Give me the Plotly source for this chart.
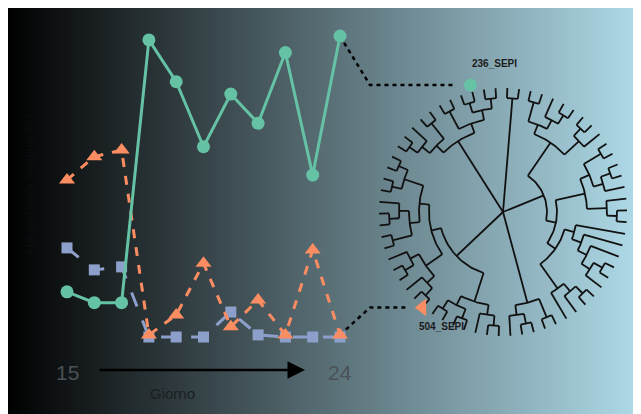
import numpy as np
import plotly.graph_objects as go

# ---------------- data ----------------
giorni = [15, 15.9, 16.8, 17.7, 18.6, 19.5, 20.4, 21.3, 22.2, 23.1, 24]
ceppo_236 = [15.0, 11.4, 11.4, 98.7, 84.8, 63.2, 80.7, 71.0, 94.5, 53.8, 100.0]
ceppo_504 = [52.2, 59.9, 62.1, 0.7, 7.3, 24.5, 3.4, 12.3, 0.7, 28.9, 0.7]
altri_ceppi = [29.6, 22.3, 23.3, 0.0, 0.0, 0.0, 8.3, 0.7, 0.0, 0.0, 0.0]
tick_giorni = [15, 24]
tick_testi = ["15", "24"]
etichetta_x = "Giorno"
etichetta_y = "Abbondanza relativa (%)"

# phylogenetic tree topology (leaves in clockwise order)
clade_B = ["", ""]
clade_C1 = [[["", ""], ["", ["", ""]]], [["", ""], ""]]
clade_C2 = [[["", ""], [["", ""], ""]], ["", ["", ""]]]
clade_C3 = ["", ["", ["", [["", ""], ""]]]]
clade_C4 = [[["", ""], ""], ""]
clade_C = [clade_C1, [clade_C2, [clade_C3, clade_C4]]]
clade_D = [["", ""], [["", ""], ""]]
clade_E1 = [[["", ""], ""], [["", ""], ["", ""]]]
clade_E2 = [[["504_SEPI", ""], ""], [["", ""], ""]]
clade_E3 = [["", ""], [["", ""], ""]]
clade_E4 = [["", ""], ["", ""]]
clade_E = [clade_E1, [clade_E2, [clade_E3, clade_E4]]]
clade_A1 = [[["", ""], ""], ["", ""]]
clade_A2 = [["", ""], [["", "236_SEPI"], ["", ""]]]
clade_A = [clade_A1, clade_A2]
albero = [clade_B, clade_C, clade_D, clade_E, clade_A]

# ---------------- geometry (screen pixel frame -> data frame) ----------------
OFF = 8  # page margin of the browser
SW, SH = 641, 414
W, H = SW - OFF, SH - OFF
PX15, PX24 = 67, 340
kx = (PX24 - PX15) / (24 - 15)
x_lo = 15 - (PX15 - OFF) / kx
x_hi = x_lo + W / kx
PY0, PY100 = 337, 36
ky = (PY0 - PY100) / 100.0
y_lo = -(SH - PY0) / ky
y_hi = y_lo + H / ky


def X(px):
    return x_lo + (px - OFF) / kx


def Y(py):
    return y_hi - (py - OFF) / ky


# ---------------- tree layout ----------------
TREE_CX, TREE_CY = 503, 212
R_LEAF = 124.0
STEP = 10.0
A0 = 88.0

leaves = []


def walk(n):
    if isinstance(n, str):
        leaves.append(n)
        return {"leaf": True, "i": len(leaves) - 1, "h": 0, "name": n}
    kids = [walk(c) for c in n]
    return {"leaf": False, "kids": kids, "h": 1 + max(k["h"] for k in kids)}


root = walk(albero)
N = len(leaves)
dang = 360.0 / N


def assign(node, is_root=False):
    if node["leaf"]:
        node["a"] = A0 - node["i"] * dang
        node["r"] = R_LEAF
    else:
        for k in node["kids"]:
            assign(k)
        node["a"] = 0.5 * (node["kids"][0]["a"] + node["kids"][-1]["a"])
        node["r"] = 0.0 if is_root else R_LEAF - STEP * node["h"]


assign(root, True)


def to_data(r, a_deg):
    t = np.radians(a_deg)
    return X(TREE_CX + r * np.cos(t)), Y(TREE_CY - r * np.sin(t))


tx, ty = [], []
labelled = {}


def draw(node, is_root=False):
    if node["leaf"]:
        if node["name"]:
            labelled[node["name"]] = node["a"]
        return
    if not is_root:
        angs = np.linspace(node["kids"][0]["a"], node["kids"][-1]["a"], 30)
        for a in angs:
            x, y = to_data(node["r"], a)
            tx.append(x)
            ty.append(y)
        tx.append(None)
        ty.append(None)
    for k in node["kids"]:
        for r in (node["r"], k["r"]):
            x, y = to_data(r, k["a"])
            tx.append(x)
            ty.append(y)
        tx.append(None)
        ty.append(None)
        draw(k)


draw(root, True)

GREEN = "#66c2a5"
ORANGE = "#fc8d62"
BLUE = "#8da0cb"

fig = go.Figure()

# gradient background
ncol = 256
gx = np.linspace(X(6), X(634), ncol + 1)
gy = [Y(SH + 2), Y(6)]
gz = [list(np.linspace(0, 1, ncol))]
fig.add_trace(go.Heatmap(x=gx, y=gy, z=gz, colorscale=[[0, "#000000"], [1, "#add8e6"]],
                         showscale=False, hoverinfo="skip", zmin=0, zmax=1))

# tree
fig.add_trace(go.Scatter(x=tx, y=ty, mode="lines", line=dict(color="#111111", width=1.8),
                         hoverinfo="skip", showlegend=False))

# connectors
g_leaf = to_data(R_LEAF + 7, labelled["236_SEPI"])
o_leaf = to_data(R_LEAF + 1, labelled["504_SEPI"])
for series, leaf in ((ceppo_236, g_leaf), (ceppo_504, o_leaf)):
    fig.add_trace(go.Scatter(
        x=[giorni[-1], X(370), leaf[0] - 15 / kx],
        y=[series[-1], leaf[1], leaf[1]],
        mode="lines", line=dict(color="#000000", width=2.5, dash="4px,4px"),
        hoverinfo="skip", showlegend=False))

# series
fig.add_trace(go.Scatter(x=giorni, y=altri_ceppi, mode="lines+markers", name="altri",
                         line=dict(color=BLUE, width=3, dash="longdash"),
                         marker=dict(symbol="square", size=11, color=BLUE)))
fig.add_trace(go.Scatter(x=giorni, y=ceppo_504, mode="lines+markers", name="504_SEPI",
                         line=dict(color=ORANGE, width=3, dash="dash"),
                         marker=dict(symbol="triangle-up", size=14, color=ORANGE)))
fig.add_trace(go.Scatter(x=giorni, y=ceppo_236, mode="lines+markers", name="236_SEPI",
                         line=dict(color=GREEN, width=3),
                         marker=dict(symbol="circle", size=13, color=GREEN)))

# leaf markers
fig.add_trace(go.Scatter(x=[g_leaf[0]], y=[g_leaf[1]], mode="markers",
                         marker=dict(symbol="circle", size=13, color=GREEN), showlegend=False))
fig.add_trace(go.Scatter(x=[o_leaf[0]], y=[o_leaf[1]], mode="markers",
                         marker=dict(symbol="triangle-left", size=15, color=ORANGE), showlegend=False))

ann = []
for v, t in zip(tick_giorni, tick_testi):
    ann.append(dict(x=v, y=Y(372), text=t, showarrow=False,
                    font=dict(size=21, color="#4a5156")))
ann.append(dict(x=X(305), y=Y(370), ax=X(98), ay=Y(370), axref="x", ayref="y",
                xref="x", yref="y", text="", showarrow=True, arrowhead=2,
                arrowsize=1.4, arrowwidth=2.5, arrowcolor="#000000"))
ann.append(dict(x=X(172), y=Y(393), text=etichetta_x, showarrow=False,
                font=dict(size=15, color="#1a1f23")))
ann.append(dict(x=X(30), y=Y(185), text=etichetta_y, showarrow=False, textangle=-90,
                font=dict(size=13, color="#0b0e10")))
ann.append(dict(x=g_leaf[0] + 24 / kx, y=Y(63), text="<b>236_SEPI</b>", showarrow=False,
                font=dict(size=10, color="#1c1c1c")))
ann.append(dict(x=o_leaf[0] + 19 / kx, y=Y(326), text="<b>504_SEPI</b>", showarrow=False,
                font=dict(size=10, color="#1c1c1c")))

fig.update_layout(
    width=W, height=H, autosize=False,
    margin=dict(l=0, r=0, t=0, b=0, pad=0),
    paper_bgcolor="#ffffff", plot_bgcolor="rgba(0,0,0,0)",
    showlegend=False,
    font=dict(family="Liberation Sans, Arial, sans-serif"),
    xaxis=dict(range=[x_lo, x_hi], visible=False, fixedrange=True),
    yaxis=dict(range=[y_lo, y_hi], visible=False, fixedrange=True),
    annotations=ann,
)

fig.write_html("out.html")
